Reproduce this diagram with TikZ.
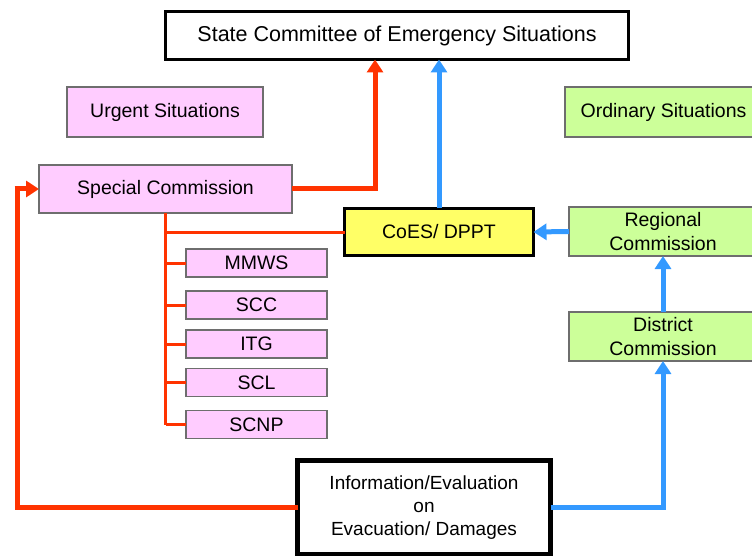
\documentclass[tikz,border=0pt]{standalone}
\usepackage{fontspec}
\setmainfont{Liberation Sans}
\usetikzlibrary{arrows.meta}
\definecolor{pinkfill}{HTML}{FFCCFF}
\definecolor{greenfill}{HTML}{CCFF99}
\definecolor{yellowfill}{HTML}{FFFF66}
\definecolor{edgegray}{HTML}{6E6E6E}
\definecolor{flowred}{HTML}{FF3300}
\definecolor{flowblue}{HTML}{3399FF}
\tikzset{
  box/.style={rectangle, draw, inner sep=0pt, outer sep=0pt, align=center,
    font=\fontsize{19.5}{24}\selectfont},
  pinkbox/.style={box, fill=pinkfill, draw=edgegray, line width=1.2pt},
  greenbox/.style={box, fill=greenfill, draw=edgegray, line width=1.2pt},
  heavybox/.style={box, draw=black, line width=3pt},
  redflow/.style={draw=flowred, line width=5pt, -{Triangle[length=13pt,width=16pt]}},
  blueflow/.style={draw=flowblue, line width=5pt, -{Triangle[length=13pt,width=16pt]}},
  redplain/.style={draw=flowred, line width=5pt},
  branch/.style={draw=flowred, line width=3pt},
}
\begin{document}
\begin{tikzpicture}[x=1pt,y=-1pt]
\useasboundingbox (0,0) rectangle (752,556);

% top level
\node[heavybox, fill=white, minimum width=463pt, minimum height=48pt,
  font=\fontsize{21.5}{26}\selectfont] (state) at (397,35.5)
  {State Committee of Emergency Situations};

% column headings
\node[pinkbox, minimum width=196pt, minimum height=50pt] (urgent) at (165,112) {Urgent Situations};
\node[greenbox, minimum width=197pt, minimum height=50pt] (ordinary) at (663.5,112) {Ordinary Situations};

% urgent branch
\node[pinkbox, minimum width=253pt, minimum height=48pt] (special) at (165.5,189) {Special Commission};
\node[pinkbox, minimum width=141pt, minimum height=28pt] (mmws) at (256.5,263) {MMWS};
\node[pinkbox, minimum width=141pt, minimum height=28pt] (scc) at (256.5,305) {SCC};
\node[pinkbox, minimum width=141pt, minimum height=28pt] (itg) at (256.5,344) {ITG};
\node[pinkbox, minimum width=141pt, minimum height=28pt] (scl) at (256.5,382.5) {SCL};
\node[pinkbox, minimum width=141pt, minimum height=28pt] (scnp) at (256.5,424.5) {SCNP};

% coordinating body
\node[heavybox, fill=yellowfill, minimum width=189pt, minimum height=47pt] (coes) at (439,232) {CoES/ DPPT};

% ordinary branch
\node[greenbox, minimum width=188pt, minimum height=49pt] (regional) at (663,231.5) {Regional\\Commission};
\node[greenbox, minimum width=188pt, minimum height=49pt] (district) at (663,336.5) {District\\Commission};

% information source
\node[box, fill=white, draw=black, line width=5pt, minimum width=253pt, minimum height=94pt,
  font=\fontsize{19}{23}\selectfont] (info) at (424,507.5)
  {Information/Evaluation\\on\\Evacuation/ Damages};

\coordinate (leftrail) at (17,0);

% red (urgent) flows
\draw[redflow] (special.east) -| ([xshift=-22pt]state.south);
\draw[redplain] (info.west) -| (leftrail |- special.west);
\draw[redflow] ([xshift=-2.5pt]leftrail |- special.west) -- (special.west);
\draw[branch] (special.south) -- (special.south |- scnp.west);
\draw[branch] (special.south |- coes.west) -- (coes.west);
\foreach \s in {mmws,scc,itg,scl,scnp}
  \draw[branch] (special.south |- \s.west) -- (\s.west);

% blue (ordinary) flows
\draw[blueflow] (coes.north) -- (coes.north |- state.south);
\draw[blueflow] (regional.west) -- (coes.east);
\draw[blueflow] (district.north) -- (regional.south);
\draw[blueflow] (info.east) -| (district.south);
\end{tikzpicture}
\end{document}
